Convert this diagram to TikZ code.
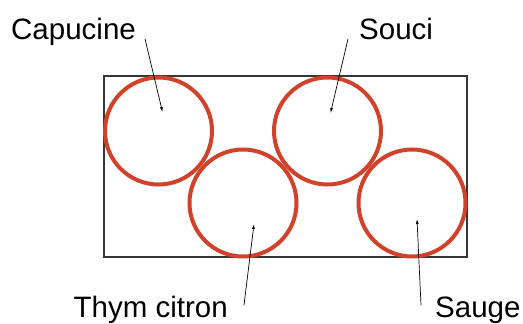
\documentclass[tikz,border=0pt]{standalone}
\usepackage{fontspec}
\setmainfont{Liberation Sans}
\usetikzlibrary{arrows.meta,positioning,calc}
\definecolor{Frame}{HTML}{363636}
\definecolor{Bloom}{HTML}{D2412A}
\tikzset{
  bed/.style={draw=Frame,line width=2.5pt,inner sep=0pt},
  plant/.style={circle,draw=Bloom,line width=4pt,minimum size=107pt,inner sep=0pt},
  tag/.style={inner sep=0pt,font=\fontsize{29.5}{34}\selectfont},
  pointer/.style={-{Latex[length=5pt,width=3pt]},draw=black,line width=.7pt}
}
\begin{document}
\begin{tikzpicture}[x=1pt,y=-1pt]
        \useasboundingbox (0,0) rectangle (523,324);
        \node[bed,minimum width=363pt,minimum height=181pt] (bed) at (285.5,166.5) {};
        % plantes
        \node[plant] (capucine) at (158.5,131) {};
        \node[plant] (souci) at (327.5,131) {};
        \node[plant] (thym) at (243,203) {};
        \node[plant] (sauge) at (412,203) {};
        \coordinate (capTip) at ($(capucine)+(4,-19)$);
        \coordinate (souTip) at ($(souci)+(3,-18)$);
        \coordinate (thyTip) at ($(thym)+(11,21)$);
        \coordinate (sauTip) at ($(sauge)+(5,16)$);
        % etiquettes
        \node[tag,anchor=base west] (capLabel) at (11,39) {Capucine};
        \node[tag,anchor=base west] (souLabel) at (359,39) {Souci};
        \node[tag,anchor=base east] (thyLabel) at (228,317) {Thym citron};
        \node[tag,anchor=base west] (sauLabel) at (435,317) {Sauge};
        \draw[pointer] ([xshift=9pt]capLabel.base east) -- (capTip);
        \draw[pointer] ([xshift=-11pt]souLabel.base west) -- (souTip);
        \draw[pointer] ([xshift=16pt,yshift=12pt]thyLabel.base east) -- (thyTip);
        \draw[pointer] ([xshift=-14pt,yshift=12pt]sauLabel.base west) -- (sauTip);
\end{tikzpicture}
\end{document}
